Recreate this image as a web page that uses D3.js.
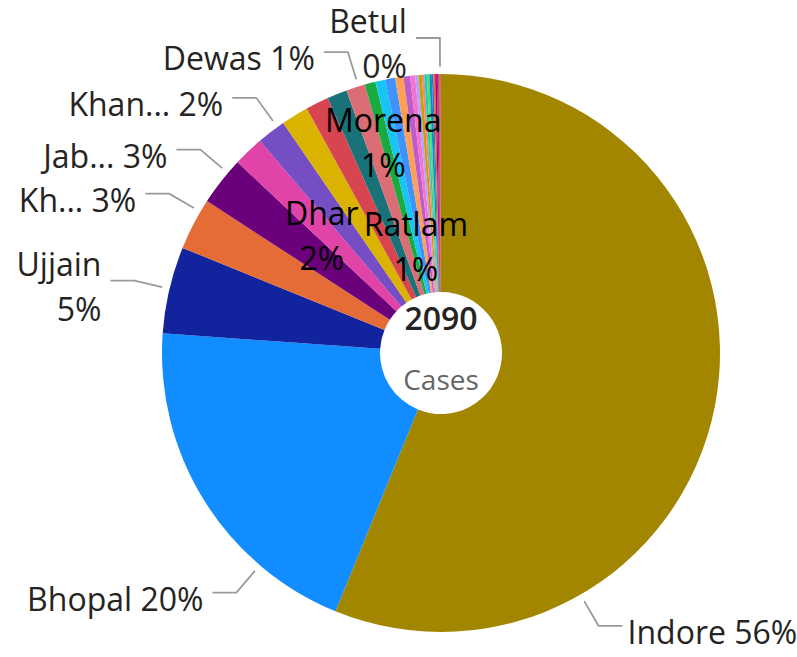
<!DOCTYPE html>
<html>
<head>
<meta charset="utf-8">
<script src="https://cdn.jsdelivr.net/npm/d3@7"></script>
<style>
  body { margin: 0; background: #fff; }
  svg { display: block; font-family: "Segoe UI", "Open Sans", sans-serif; }
  .leader { fill: none; stroke: #9a9a9a; stroke-width: 1.8px; }
  .outLabel { fill: #252423; font-size: 32px; }
  .inLabel { fill: #000; font-size: 32px; }
  .total { fill: #252423; font-size: 32px; font-weight: 600; }
  .caption { fill: #666; font-size: 28px; }
</style>
</head>
<body>
<svg id="chart" width="797" height="657"></svg>
<script>
// cases per district
var districts = ["Indore", "Bhopal", "Ujjain", "Khargone", "Jabalpur", "Dhar", "Khandwa",
  "Raisen", "Hoshangabad", "Barwani", "Dewas", "Morena", "Ratlam", "Mandsaur", "Vidisha",
  "Agar Malwa", "Shajapur", "Sagar", "Gwalior", "Alirajpur", "Chhindwara", "Shivpuri",
  "Sheopur", "Burhanpur", "Tikamgarh", "Harda", "Anuppur", "Shahdol", "Satna", "Betul"];
var cases = [1174, 417, 105, 63, 59, 37, 35, 33, 28, 24, 23, 13, 12, 12, 10,
  8, 6, 4, 4, 3, 3, 3, 3, 2, 2, 2, 2, 1, 1, 1];
var colors = ["#A38600", "#118DFF", "#12239E", "#E66C37", "#6B007B", "#E044A7", "#744EC2",
  "#D9B300", "#D64550", "#197278", "#DB6D77", "#1AAB40", "#15C6F4", "#4092FF", "#FFA058",
  "#BE5DC9", "#F472D0", "#B5A1FF", "#C4A200", "#FF8080", "#00DBBC", "#5BD667", "#0091D5",
  "#4668C5", "#FF6300", "#99008A", "#EC008C", "#533285", "#99700A", "#FF4141"];
var centerCaption = "Cases";

// label layout (angles in degrees, clockwise from 12 o'clock)
var outsideLabels = [
  { name: "Indore",   text: "Indore", angle: 150 },
  { name: "Bhopal",   text: "Bhopal", angle: 220.5 },
  { name: "Ujjain",   text: "Ujjain", angle: 283.3, wrap: true },
  { name: "Khargone", text: "Kh...",  angle: 300.4 },
  { name: "Jabalpur", text: "Jab...", angle: 310.2 },
  { name: "Khandwa",  text: "Khan...", angle: 324.1 },
  { name: "Dewas",    text: "Dewas",  angle: 342.8 },
  { name: "Betul",    text: "Betul",  angle: 359.8, wrap: true }
];
var insideLabels = [
  { name: "Dhar",   angle: 314.8, r: 168 },
  { name: "Morena", angle: 344.7, r: 219 },
  { name: "Ratlam", angle: 346.8, r: 110 }
];

var width = 797, height = 657;
var cx = 441, cy = 353, R = 279, R0 = 61;

var svg = d3.select("#chart");
var g = svg.append("g").attr("transform", "translate(" + cx + "," + cy + ")");

var total = d3.sum(cases);
var pct = function(v) { return Math.round(v / total * 100) + "%"; };

var pie = d3.pie().sort(null).value(function(d) { return d; });
var arc = d3.arc().innerRadius(R0).outerRadius(R);

g.selectAll("path.slice")
  .data(pie(cases))
  .enter().append("path")
  .attr("class", "slice")
  .attr("fill", function(d, i) { return colors[i]; })
  .attr("d", arc);

function polar(deg, r) {
  var a = deg * Math.PI / 180;
  return [r * Math.sin(a), -r * Math.cos(a)];
}

outsideLabels.forEach(function(l) {
  var i = districts.indexOf(l.name);
  var p1 = polar(l.angle, R + 7.5),
      p2 = polar(l.angle, R + 36);
  var side = Math.sin(l.angle * Math.PI / 180) > 0 ? 1 : -1;
  var p3 = [p2[0] + side * 24, p2[1]];
  g.append("polyline").attr("class", "leader")
    .attr("points", [p1, p2, p3].join(" "));
  var lines = l.wrap ? [l.text, pct(cases[i])] : [l.text + " " + pct(cases[i])];
  var y0 = lines.length > 1 ? p3[1] - 5 : p3[1] + 18;
  var t = g.append("text").attr("class", "outLabel")
    .attr("text-anchor", side > 0 ? "start" : "end");
  lines.forEach(function(s, k) {
    t.append("tspan")
      .attr("x", p3[0] + side * (side > 0 ? 5 : 9))
      .attr("y", y0 + k * 45)
      .text(s);
  });
});

insideLabels.forEach(function(l) {
  var i = districts.indexOf(l.name);
  var p = polar(l.angle, l.r);
  var t = g.append("text").attr("class", "inLabel").attr("text-anchor", "middle");
  [l.name, pct(cases[i])].forEach(function(s, k) {
    t.append("tspan").attr("x", p[0]).attr("y", p[1] - 10 + k * 45).text(s);
  });
});

g.append("text").attr("class", "total")
  .attr("text-anchor", "middle").attr("y", -23)
  .text(total);
g.append("text").attr("class", "caption")
  .attr("text-anchor", "middle").attr("y", 37)
  .text(centerCaption);
</script>
</body>
</html>
